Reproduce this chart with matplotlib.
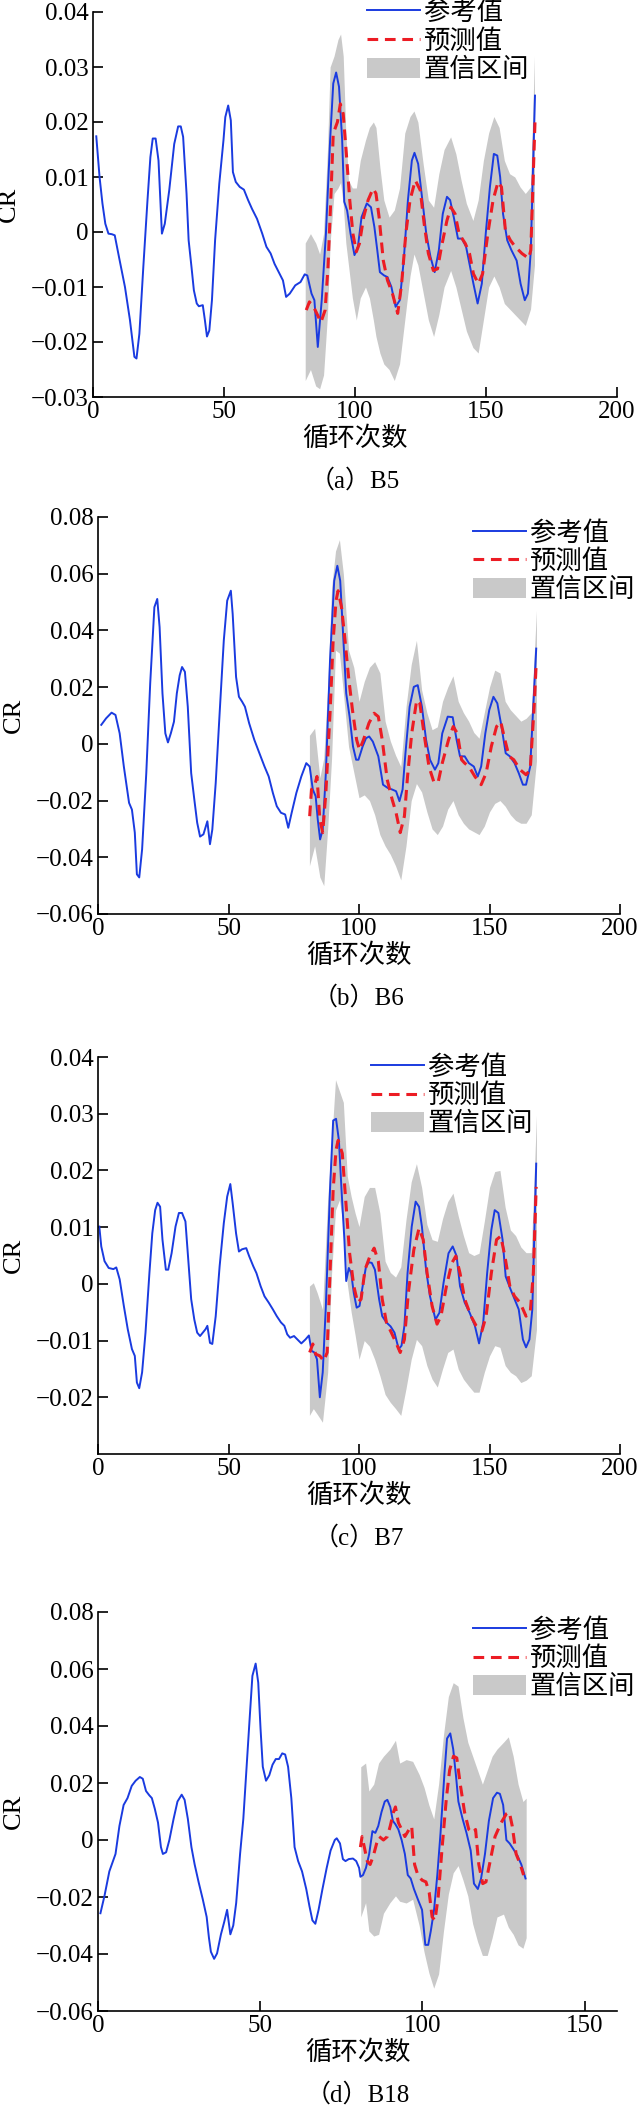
import matplotlib
matplotlib.use('Agg')
import matplotlib.pyplot as plt
from matplotlib.ticker import FuncFormatter
from matplotlib.patches import Patch
from matplotlib.lines import Line2D

plt.rcParams['font.family'] = ['Liberation Serif', 'Noto Sans CJK SC']

# ---------------- (a) B5 ----------------
a_ref_x = [1.25, 2.5, 3.6, 4.7, 5.9, 7.2, 8.3, 9.9, 12.2, 14.1, 15.8, 16.6, 17.7, 19.2, 20.8, 21.9, 22.8, 23.9,
           25, 26.3, 27.4, 29.1, 31, 32.5, 33.5, 34.4, 35.7, 36.5, 37.6, 38.5, 39.6, 40.4, 41.9, 42.7, 43.5, 44.4,
           45.4, 46.6, 48.2, 49.8, 50.5, 51.6, 52.6, 53.4, 54.5, 56, 57.6, 59.2, 60.7, 62.6, 64.6, 66.2, 67.8,
           69.3, 70.9, 72.5, 73.7, 75.1, 77.2, 79.2, 80.8, 81.8, 83.4, 84.5, 85.8, 87.3, 88.9, 90.5, 91.7, 92.8,
           93.9, 95.1, 95.9, 97, 98.3, 99.8, 101.1, 102.5, 104.5, 106.1, 107.4, 108.5, 109.5, 111.1, 112.4, 113.9,
           115.5, 117.1, 118.6, 120.2, 121.7, 122.7, 124.1, 125.7, 127.2, 128.8, 130.4, 132, 133.5, 135.1, 136.3,
           137.7, 139.3, 140.8, 142.4, 143.7, 145.2, 146.8, 148.4, 149.9, 151.5, 153, 154.3, 155.4, 156.5, 158.1,
           159.7, 161.7, 163.2, 164.8, 166, 167.1, 168.7]
a_ref_y = [0.0174, 0.010, 0.0052, 0.0015, -0.0003, -0.0004, -0.0006, -0.0045, -0.010, -0.016, -0.0227, -0.023,
           -0.0185, -0.0064, 0.0058, 0.0136, 0.017, 0.017, 0.013, -0.0003, 0.0015, 0.0076, 0.016, 0.0192, 0.0192,
           0.0173, 0.007, -0.0015, -0.0064, -0.0106, -0.013, -0.0135, -0.0133, -0.016, -0.019, -0.0179, -0.0124,
           -0.0015, 0.0088, 0.0167, 0.0209, 0.023, 0.0203, 0.0109, 0.0091, 0.0082, 0.0077, 0.0058, 0.0042, 0.0024,
           -0.0003, -0.0027, -0.0039, -0.0058, -0.0073, -0.0088, -0.0118, -0.0112, -0.0097, -0.0091, -0.0077,
           -0.0079, -0.0112, -0.0124, -0.0209, -0.0124, -0.0003, 0.0167, 0.027, 0.029, 0.0264, 0.0167, 0.0055,
           0.0039, -0.0003, -0.0042, -0.0027, 0.0027, 0.0052, 0.0045, 0.0009, -0.0033, -0.0073, -0.0079, -0.0082,
           -0.010, -0.0136, -0.0124, -0.0052, 0.0058, 0.013, 0.0144, 0.0124, 0.0058, -0.0003, -0.0045, -0.0073,
           -0.0033, 0.0033, 0.0064, 0.0058, 0.0027, -0.0012, -0.0012, -0.0027, -0.0058, -0.0094, -0.013, -0.0094,
           -0.0003, 0.0082, 0.0142, 0.0139, 0.010, 0.0033, -0.0015, -0.0033, -0.0052, -0.0094, -0.0124, -0.0112,
           -0.0033, 0.0248]
a_pred_x = [81.4, 82.6, 84.2, 85.4, 87, 88.6, 89.7, 90.8, 91.7, 93.3, 94.4, 95.5, 96.7, 98, 99.2, 100.5, 101.7,
            103.3, 105, 106.9, 108, 109.2, 110.8, 112.4, 114.3, 116.3, 117.8, 119.4, 121, 123, 124.9, 126.4, 128,
            129.9, 131.5, 133, 135.1, 136.6, 138.2, 139.7, 142.1, 143.7, 145.2, 147.1, 148.7, 150.7, 152.7, 154.6,
            155.9, 157.4, 159.3, 161.2, 163.7, 166.3, 167.1, 168.7]
a_pred_y = [-0.0142, -0.0127, -0.0136, -0.0148, -0.0164, -0.0142, -0.0064, 0.0064, 0.0179, 0.020, 0.0233, 0.0215,
            0.0142, 0.0058, -0.0003, -0.0036, -0.0021, 0.0027, 0.0058, 0.0079, 0.007, 0.0027, -0.0052, -0.0088,
            -0.0112, -0.0148, -0.0094, -0.0003, 0.0058, 0.0094, 0.0076, 0.0015, -0.0039, -0.007, -0.0067, -0.0027,
            0.0021, 0.0045, 0.0033, -0.0003, -0.0021, -0.0039, -0.0076, -0.0094, -0.0076, -0.0003, 0.0058, 0.0091,
            0.0082, 0.0003, -0.0015, -0.0027, -0.0039, -0.0048, -0.0033, 0.020]
a_band_x = [81, 83, 85, 86.5, 88, 89.5, 90.5, 92, 93.5, 94.5, 95.5, 96.5, 97.5, 99, 100.5, 102, 104, 105.5, 107,
            108, 109.5, 111, 113, 115, 117, 119, 121, 122.5, 124, 126, 128, 130, 132, 134, 136.5, 138.5, 140.5,
            142.5, 145, 147, 149, 151, 153, 155, 157, 159, 161, 163, 165, 167, 168.5]
a_band_hi = [-0.002, -0.0003, -0.002, -0.004, -0.0003, 0.015, 0.030, 0.032, 0.035, 0.036, 0.032, 0.018, 0.0094,
             0.008, 0.008, 0.013, 0.0167, 0.019, 0.020, 0.019, 0.0118, 0.0058, 0.0027, 0.004, 0.008, 0.018, 0.021,
             0.022, 0.020, 0.0124, 0.0058, 0.0045, 0.0106, 0.015, 0.0173, 0.0142, 0.0094, 0.0052, 0.0021, 0.0058,
             0.013, 0.018, 0.021, 0.019, 0.013, 0.0106, 0.010, 0.0082, 0.007, 0.0082, 0.032]
a_band_lo = [-0.027, -0.025, -0.028, -0.0285, -0.026, -0.015, -0.002, 0.007, 0.008, 0.009, 0.005, -0.002, -0.006,
             -0.012, -0.016, -0.012, -0.010, -0.012, -0.016, -0.019, -0.022, -0.024, -0.025, -0.027, -0.024, -0.016,
             -0.008, -0.004, -0.006, -0.011, -0.016, -0.019, -0.015, -0.010, -0.007, -0.010, -0.014, -0.018, -0.021,
             -0.022, -0.016, -0.010, -0.008, -0.010, -0.013, -0.014, -0.015, -0.016, -0.017, -0.014, -0.006]

# ---------------- (b) B6 ----------------
b_ref_x = [1.25, 3.1, 5.2, 6.7, 8.3, 9.9, 11.9, 13, 14.1, 14.9, 15.8, 16.9, 18.5, 20, 21.6, 22.7, 23.6, 24.7, 25.8,
           26.8, 27.9, 29.1, 30.2, 31.3, 32.2, 33.3, 34.4, 35.7, 36.9, 38, 39.1, 40.4, 41.9, 42.9, 43.8, 45.1, 46.6,
           48.2, 49.5, 50.9, 51.6, 52.9, 54, 55.2, 56.3, 57.9, 59.9, 62.3, 63.8, 65.4, 67, 68.5, 70.1, 71.7, 72.9,
           74.2, 76, 77.9, 79.8, 81.1, 82.3, 83.4, 84.2, 85.1, 86.1, 87.3, 88.9, 90.5, 91.7, 92.8, 93.9, 95.1, 96.4,
           97.7, 98.9, 99.8, 101.4, 102.7, 103.9, 105.3, 107.4, 109.2, 111.1, 112.7, 114.2, 115.5, 116.7, 117.8,
           119.4, 121, 122.5, 124.1, 125.7, 127.2, 129.1, 130.4, 131.9, 134, 135.9, 137.4, 138.7, 140.5, 142.1, 144,
           145.5, 146.8, 148.4, 149.9, 151.5, 153, 154.6, 156.2, 157.8, 159.6, 161.2, 162.8, 164, 165.6, 167.9]
b_ref_y = [0.0067, 0.009, 0.011, 0.0102, 0.0037, -0.008, -0.0208, -0.0232, -0.0313, -0.046, -0.0471, -0.0372,
           -0.0103, 0.0213, 0.0482, 0.0511, 0.0412, 0.0178, 0.0037, 0.0005, 0.0037, 0.0078, 0.0178, 0.0242, 0.0271,
           0.0254, 0.0131, -0.0103, -0.0196, -0.0278, -0.0327, -0.0319, -0.0273, -0.0354, -0.0302, -0.0138, 0.0108,
           0.0365, 0.0505, 0.054, 0.0458, 0.0236, 0.0166, 0.0149, 0.0131, 0.0073, 0.0014, -0.0044, -0.008, -0.0115,
           -0.0173, -0.022, -0.0243, -0.0249, -0.0296, -0.0243, -0.0173, -0.0115, -0.0068, -0.008, -0.0161,
           -0.0185, -0.0267, -0.0337, -0.0302, -0.0103, 0.0295, 0.0575, 0.0628, 0.0575, 0.0388, 0.0178, 0.0096,
           -0.0009, -0.0056, -0.0056, -0.0009, 0.002, 0.0026, 0.0008, -0.0044, -0.0144, -0.0156, -0.0161, -0.0167,
           -0.0202, -0.0161, -0.0033, 0.0131, 0.0201, 0.0207, 0.0131, 0.0014, -0.0056, -0.0091, -0.0068, 0.0037,
           0.0096, 0.0094, 0.0014, -0.0044, -0.0044, -0.0068, -0.008, -0.0115, -0.008, 0.0037, 0.0119, 0.0166,
           0.0143, 0.0061, -0.0033, -0.0044, -0.0068, -0.0103, -0.0144, -0.0144, -0.008, 0.0336]
b_pred_x = [81.1, 81.8, 82.9, 83.9, 85, 86.1, 87.3, 88.9, 90.1, 91.2, 92, 93.3, 94.4, 96, 97.5, 99.1, 100.2, 101.7,
            103.8, 105.8, 107.4, 108.9, 110.8, 112.7, 114.2, 115.8, 117.4, 118.6, 120.2, 122.1, 123.3, 124.9, 126.8,
            128.8, 130.4, 131.9, 134.3, 136.1, 137.7, 139.3, 140.5, 142.1, 144.4, 146.8, 148.7, 150.7, 152.7, 154.3,
            155.9, 157.5, 159.3, 161.7, 164, 165.6, 167.1, 167.9]
b_pred_y = [-0.0255, -0.0161, -0.015, -0.0115, -0.0267, -0.0313, -0.0173, 0.0108, 0.0365, 0.0505, 0.054, 0.0482,
            0.0388, 0.0236, 0.0119, 0.0014, -0.0021, 0.0014, 0.0073, 0.0108, 0.0096, 0.0014, -0.0126, -0.0196,
            -0.0243, -0.0313, -0.0255, -0.0115, 0.0037, 0.0154, 0.0143, 0.0037, -0.008, -0.0138, -0.0132, -0.0068,
            0.0014, 0.0061, 0.0037, -0.0056, -0.0068, -0.008, -0.0115, -0.0144, -0.0103, -0.0009, 0.0061, 0.0078,
            0.0014, -0.0044, -0.0056, -0.0091, -0.0109, -0.0091, 0.0131, 0.0283]
b_band_x = [81, 83, 85, 86.5, 88, 89.5, 91, 92.5, 94, 96, 98, 100, 102, 104, 106, 108, 110, 112, 114, 116, 118,
            120, 122, 124, 126, 128, 130, 132, 134, 136, 138, 140, 142, 144, 146, 148, 150, 152, 154, 156, 158, 160,
            162, 164, 166, 168]
b_band_hi = [0.003, 0.0055, -0.012, -0.005, 0.02, 0.055, 0.068, 0.072, 0.06, 0.033, 0.027, 0.015, 0.022, 0.027,
             0.029, 0.025, 0.008, 0.001, -0.004, -0.008, 0.013, 0.028, 0.0365, 0.019, 0.011, 0.005, 0.006, 0.015,
             0.020, 0.024, 0.015, 0.011, 0.008, 0.004, 0.002, 0.011, 0.020, 0.026, 0.025, 0.015, 0.012, 0.010, 0.008,
             0.009, 0.011, 0.047]
b_band_lo = [-0.043, -0.036, -0.047, -0.050, -0.030, -0.005, 0.033, 0.032, 0.018, -0.001, -0.010, -0.019, -0.018,
             -0.020, -0.025, -0.032, -0.036, -0.039, -0.043, -0.048, -0.036, -0.020, -0.014, -0.017, -0.024, -0.030,
             -0.032, -0.029, -0.023, -0.020, -0.025, -0.028, -0.030, -0.031, -0.032, -0.029, -0.024, -0.021, -0.020,
             -0.022, -0.025, -0.027, -0.028, -0.028, -0.025, -0.006]

# ---------------- (c) B7 ----------------
c_ref_x = [0.5, 1.25, 2.5, 4.1, 5.9, 7, 8.3, 9.9, 11.4, 13, 14.1, 14.9, 15.8, 16.9, 18.2, 19.7, 20.8, 21.9, 22.8,
           23.8, 24.7, 26, 26.9, 28.2, 29.7, 31, 32.2, 33.5, 34.4, 35.7, 36.9, 38, 39.1, 41.2, 41.9, 42.9, 43.8,
           45.1, 46.6, 48.2, 49.5, 50.7, 51.6, 52.9, 54, 55.2, 56.8, 57.9, 59.5, 60.7, 62.3, 63.8, 65.4, 67, 68.5,
           70.1, 71.4, 72.5, 73.6, 75.1, 76.4, 77.9, 79.5, 80.8, 81.8, 82.9, 83.9, 85, 86.1, 87.3, 88.9, 90.1, 91.2,
           92.3, 93.3, 94.4, 95.1, 96.1, 97, 98, 99.1, 100.2, 101.4, 102.7, 103.8, 104.9, 106.1, 107.7, 108.9,
           110.5, 112.1, 113.6, 115.2, 116.3, 117.4, 118.6, 120.2, 121.7, 123, 124.1, 125.7, 127.2, 129.3, 130.8,
           132.4, 134.3, 135.9, 137.4, 138.7, 140.5, 142.4, 144.4, 146, 147.6, 149.1, 150.7, 152, 153.4, 155, 156.2,
           158.1, 159.6, 161.2, 162.8, 164, 165.3, 166.4, 167.9]
c_ref_y = [0.0101, 0.0066, 0.004, 0.0028, 0.0026, 0.0029, 0.0008, -0.0039, -0.008, -0.0115, -0.0127, -0.0174,
           -0.0184, -0.0156, -0.0086, 0.0019, 0.0089, 0.013, 0.0143, 0.0136, 0.0078, 0.0025, 0.0025, 0.0054, 0.0101,
           0.0125, 0.0125, 0.011, 0.0054, -0.0027, -0.0063, -0.0086, -0.0092, -0.008, -0.0074, -0.0104, -0.0106,
           -0.0057, 0.0031, 0.0107, 0.0154, 0.0176, 0.0142, 0.0089, 0.0057, 0.0061, 0.0063, 0.0049, 0.0031, 0.0019,
           -0.0004, -0.0022, -0.0033, -0.0045, -0.0057, -0.0068, -0.0074, -0.0089, -0.0095, -0.0092, -0.0098,
           -0.0105, -0.0098, -0.0091, -0.0118, -0.0121, -0.0133, -0.020, -0.0156, -0.0039, 0.0166, 0.0288, 0.0291,
           0.0253, 0.0166, 0.0078, 0.0005, 0.0028, 0.0019, -0.0016, -0.0042, -0.0039, -0.0004, 0.0031, 0.0038,
           0.0037, 0.0025, -0.0027, -0.0057, -0.0068, -0.0075, -0.0086, -0.0115, -0.0109, -0.0074, 0.0019, 0.0101,
           0.0145, 0.0136, 0.0101, 0.0025, -0.0022, -0.0063, -0.0051, 0.0002, 0.0054, 0.0066, 0.0049, -0.0004,
           -0.0033, -0.0051, -0.0074, -0.0105, -0.0068, 0.0019, 0.0095, 0.013, 0.0125, 0.0078, 0.0013, -0.001,
           -0.0027, -0.0045, -0.0098, -0.0112, -0.0098, -0.0045, 0.0212]
c_pred_x = [81.1, 82.3, 83.4, 85, 86.5, 87.8, 88.9, 90.1, 91.2, 92, 93.6, 94.9, 96.4, 98, 99.5, 100.8, 102.3, 104.2,
            105.8, 107.4, 108.9, 110.5, 112.4, 114.2, 115.8, 117.4, 118.9, 121, 123, 124.6, 126.1, 128, 129.9, 131.4,
            133.5, 135.6, 137.1, 138.7, 140.5, 142.9, 144.9, 147.1, 148.7, 150.7, 152.7, 154.3, 155.9, 157.8, 159.6,
            161.7, 164, 165.6, 166.8, 167.9]
c_pred_y = [-0.0121, -0.0106, -0.0124, -0.0127, -0.0136, -0.0121, 0.0019, 0.0166, 0.0236, 0.0253, 0.023, 0.0148,
            0.0054, -0.0004, -0.0033, -0.0027, 0.0025, 0.0049, 0.0063, 0.004, -0.0027, -0.0068, -0.0086, -0.0104,
            -0.0121, -0.0098, -0.0016, 0.006, 0.0098, 0.0078, 0.0019, -0.0039, -0.0071, -0.0057, -0.0004, 0.0037,
            0.0049, 0.0019, -0.0027, -0.0057, -0.0074, -0.0083, -0.0057, 0.0019, 0.0078, 0.0084, 0.0049, -0.0004,
            -0.0022, -0.0033, -0.0057, -0.0051, 0.0019, 0.0171]
c_band_x = [81, 82.5, 84, 86, 88, 89.5, 91, 92.5, 94, 95.5, 97, 98.5, 100, 102, 104, 106, 108, 110, 112, 114, 116,
            118, 120, 122, 124, 126, 128, 130, 132, 134, 136, 138, 140, 142, 144, 146, 148, 150, 152, 154, 156, 158,
            160, 162, 164, 166, 168]
c_band_hi = [-0.0004, 0.0002, -0.0016, -0.0045, 0.0148, 0.025, 0.036, 0.034, 0.032, 0.019, 0.0154, 0.0125, 0.0101,
             0.0154, 0.017, 0.017, 0.0125, 0.004, 0.002, 0.0012, 0.003, 0.0113, 0.018, 0.0212, 0.017, 0.0105, 0.0078,
             0.0075, 0.0115, 0.0145, 0.016, 0.012, 0.0085, 0.0055, 0.005, 0.0054, 0.011, 0.017, 0.0198, 0.020,
             0.0135, 0.0095, 0.0085, 0.0065, 0.0055, 0.0055, 0.0297]
c_band_lo = [-0.0232, -0.022, -0.023, -0.0244, -0.0156, 0.0019, 0.013, 0.0148, 0.0101, 0.0, -0.005, -0.009, -0.0133,
             -0.010, -0.011, -0.0133, -0.0162, -0.0195, -0.0209, -0.022, -0.0232, -0.0185, -0.0133, -0.0098, -0.0109,
             -0.0144, -0.0168, -0.0182, -0.015, -0.0121, -0.0115, -0.015, -0.0168, -0.018, -0.0191, -0.0191, -0.0156,
             -0.0127, -0.0109, -0.0112, -0.0144, -0.0156, -0.0162, -0.0174, -0.017, -0.0162, -0.008]

# ---------------- (d) B18 ----------------
d_ref_x = [0.75, 2, 3.5, 5.4, 6.6, 7.9, 9.1, 10.4, 11.6, 12.9, 13.8, 14.8, 15.8, 16.6, 17.5, 18.5, 19.4, 20, 21, 22,
           23.3, 24.5, 25.8, 26.7, 27.7, 28.8, 29.8, 31, 32.3, 33.5, 34.2, 34.8, 35.8, 36.7, 37.9, 38.9, 39.8, 40.8,
           41.7, 42.6, 43.8, 44.8, 45.8, 46.7, 47.6, 48.6, 49.4, 50.1, 50.8, 51.8, 52.8, 53.8, 54.8, 55.8, 56.8,
           57.7, 58.6, 59.6, 60.6, 61.7, 62.9, 64.2, 65.2, 66.1, 67, 68, 69.2, 70.5, 71.7, 73, 73.6, 74.6, 75.5,
           76.3, 77.3, 78.6, 79.6, 80.5, 80.9, 81.7, 82.6, 83.6, 84.6, 85.5, 86.4, 87.4, 88.4, 89.2, 90.1, 90.9,
           91.7, 92.6, 93.6, 94.6, 95.5, 96.4, 97.4, 98.6, 99.9, 100.9, 101.8, 102.6, 103.6, 104.6, 105.6, 106.8,
           107.6, 108.6, 109.5, 110.4, 111.1, 112.4, 113.6, 114.9, 115.9, 117.1, 118.1, 119.3, 120.5, 121.8, 123,
           123.9, 124.9, 125.9, 126.9, 128, 129.3, 130.5, 131.8]
d_ref_y = [-0.0257, -0.0196, -0.011, -0.0049, 0.0049, 0.0123, 0.0147, 0.019, 0.0208, 0.0221, 0.0215, 0.0172, 0.0157,
           0.0147, 0.011, 0.0061, -0.0025, -0.0049, -0.0043, 0.0, 0.0074, 0.0135, 0.0159, 0.0141, 0.0074, -0.0025,
           -0.0086, -0.0147, -0.0208, -0.027, -0.0343, -0.0392, -0.0417, -0.0398, -0.0331, -0.0288, -0.0245, -0.0331,
           -0.030, -0.0221, -0.0049, 0.0074, 0.0257, 0.0417, 0.0576, 0.0619, 0.0552, 0.0392, 0.0257, 0.0208, 0.0227,
           0.0264, 0.0284, 0.0284, 0.0304, 0.030, 0.0257, 0.0147, -0.0025, -0.0074, -0.011, -0.0172, -0.0233,
           -0.0282, -0.0294, -0.0245, -0.0172, -0.0098, -0.0037, 0.0, 0.0006, -0.0012, -0.0067, -0.0074, -0.0067,
           -0.0065, -0.0074, -0.0098, -0.0129, -0.0123, -0.0098, -0.0049, 0.0031, 0.0025, 0.0049, 0.0098, 0.0135,
           0.0141, 0.0116, 0.0067, 0.0055, 0.0037, 0.0, -0.0049, -0.0123, -0.0135, -0.0172, -0.0208, -0.0245,
           -0.0368, -0.0368, -0.0319, -0.0245, -0.0123, 0.0025, 0.0233, 0.0356, 0.0374, 0.0319, 0.0221, 0.0135,
           0.0074, 0.0025, -0.0037, -0.0153, -0.0172, -0.0135, -0.0049, 0.0067, 0.0147, 0.0166, 0.0162, 0.0123, 0.0,
           -0.0012, -0.0031, -0.0055, -0.0086, -0.0135]
d_pred_x = [80.9, 81.4, 82.1, 83, 83.9, 84.9, 85.9, 86.7, 88, 89.2, 90.1, 91.1, 91.7, 92.6, 93.6, 94.6, 95.9, 96.7,
            97.6, 98.6, 99.9, 101.1, 102.1, 103, 103.9, 104.9, 106.1, 107.4, 108.4, 109.6, 110.6, 111.7, 113, 114.3,
            115.5, 116.4, 117.4, 118.6, 119.6, 120.9, 122.4, 124.3, 125.9, 126.8, 127.7, 128.9, 130.2, 131.2]
d_pred_y = [-0.0025, 0.0012, -0.0025, -0.0074, -0.0086, -0.0055, -0.0012, 0.0012, 0.0, 0.0012, 0.0049, 0.0098,
            0.0116, 0.0061, 0.0037, 0.0012, 0.0037, 0.0049, -0.0086, -0.0123, -0.0141, -0.0147, -0.0184, -0.027,
            -0.0282, -0.0196, -0.0025, 0.0147, 0.0245, 0.0294, 0.0288, 0.0194, 0.0098, 0.0037, 0.0025, 0.0037,
            -0.0086, -0.0153, -0.0147, -0.0074, 0.0012, 0.0061, 0.0092, 0.0098, 0.0049, -0.0049, -0.0086, -0.0123]
d_band_x = [81, 82.5, 83.5, 85, 86.5, 88, 90, 91.7, 93, 95, 97, 99, 100.5, 102, 103.5, 105, 106.5, 108, 109.5, 111,
            112.5, 114, 115.5, 117, 118.5, 120, 121.5, 123, 125, 126.5, 128, 129.5, 131, 132]
d_band_hi = [0.0257, 0.027, 0.0172, 0.0196, 0.027, 0.0294, 0.0319, 0.035, 0.027, 0.0282, 0.0276, 0.023, 0.0185,
             0.0123, 0.0074, 0.0196, 0.0368, 0.0503, 0.0552, 0.054, 0.0429, 0.0343, 0.0294, 0.0245, 0.0196, 0.0245,
             0.0294, 0.0319, 0.0343, 0.0362, 0.0294, 0.0196, 0.0135, 0.0147]
d_band_lo = [-0.027, -0.022, -0.0319, -0.0337, -0.0331, -0.0257, -0.022, -0.0196, -0.0215, -0.0221, -0.0208, -0.030,
             -0.0392, -0.0466, -0.052, -0.047, -0.032, -0.019, -0.0115, -0.009, -0.014, -0.0196, -0.0294, -0.0356,
             -0.0405, -0.0405, -0.0343, -0.027, -0.026, -0.0306, -0.0331, -0.0368, -0.038, -0.0343]

panels = [
    dict(ref=(a_ref_x, a_ref_y), pred=(a_pred_x, a_pred_y), band=(a_band_x, a_band_lo, a_band_hi),
         box=(93, 12, 617, 397), xlim=(0, 200), xticks=[0, 50, 100, 150, 200],
         ylim=(-0.03, 0.04), yticks=[-0.03, -0.02, -0.01, 0, 0.01, 0.02, 0.03, 0.04],
         leg=(0.523, 1.03), cap='（a）B5'),
    dict(ref=(b_ref_x, b_ref_y), pred=(b_pred_x, b_pred_y), band=(b_band_x, b_band_lo, b_band_hi),
         box=(98, 517, 620, 914), xlim=(0, 200), xticks=[0, 50, 100, 150, 200],
         ylim=(-0.06, 0.08), yticks=[-0.06, -0.04, -0.02, 0, 0.02, 0.04, 0.06, 0.08],
         leg=(0.718, 0.99), cap='（b）B6'),
    dict(ref=(c_ref_x, c_ref_y), pred=(c_pred_x, c_pred_y), band=(c_band_x, c_band_lo, c_band_hi),
         box=(98, 1057, 620, 1454), xlim=(0, 200), xticks=[0, 50, 100, 150, 200],
         ylim=(-0.03, 0.04), yticks=[-0.02, -0.01, 0, 0.01, 0.02, 0.03, 0.04],
         leg=(0.523, 1.005), cap='（c）B7'),
    dict(ref=(d_ref_x, d_ref_y), pred=(d_pred_x, d_pred_y), band=(d_band_x, d_band_lo, d_band_hi),
         box=(98, 1612, 617, 2011), xlim=(0, 160), xticks=[0, 50, 100, 150],
         ylim=(-0.06, 0.08), yticks=[-0.06, -0.04, -0.02, 0, 0.02, 0.04, 0.06, 0.08],
         leg=(0.723, 0.985), cap='（d）B18'),
]

W, H = 637, 2107
fig = plt.figure(figsize=(W / 100, H / 100), dpi=100)

blue = '#1a3be0'
red = '#ec1c24'
gray = '#c9c9c9'


def fmt(v, pos):
    if abs(v) < 1e-9:
        return '0'
    return f'{v:.2f}'.replace('-', '\u2212')


for p in panels:
    l, t, r, b = p['box']
    ax = fig.add_axes([l / W, 1 - b / H, (r - l) / W, (b - t) / H])
    bx, blo, bhi = p['band']
    ax.fill_between(bx, blo, bhi, color=gray, linewidth=0, zorder=1)
    ax.plot(*p['ref'], color=blue, lw=1.4, zorder=2)
    ax.plot(*p['pred'], color=red, lw=2.2, dashes=(3.5, 2.2), zorder=3)

    ax.set_xlim(*p['xlim'])
    ax.set_ylim(*p['ylim'])
    ax.set_xticks(p['xticks'])
    ax.set_yticks(p['yticks'])
    ax.yaxis.set_major_formatter(FuncFormatter(fmt))
    for s in ['top', 'right']:
        ax.spines[s].set_visible(False)
    for s in ['left', 'bottom']:
        ax.spines[s].set_linewidth(1.2)
    ax.tick_params(direction='in', length=7.5, width=1.2, labelsize=18)
    ax.tick_params(axis='x', pad=3)
    ax.tick_params(axis='y', pad=3)

    ax.set_ylabel('CR', fontsize=19)
    ax.yaxis.set_label_coords(-0.14, 0.5)
    ax.set_xlabel('循环次数', fontsize=19, labelpad=2)
    ax.annotate(p['cap'], xy=(0.5, 0), xycoords='axes fraction', xytext=(0, -84),
                textcoords='offset pixels', ha='center', va='center', fontsize=18)

    handles = [Line2D([], [], color=blue, lw=1.4),
               Line2D([], [], color=red, lw=2.2, dashes=(3.5, 2.2)),
               Patch(facecolor=gray, edgecolor='none')]
    ax.legend(handles, ['参考值', '预测值', '置信区间'], loc='upper left', bbox_to_anchor=p['leg'],
              frameon=False, fontsize=19, borderpad=0, borderaxespad=0, handlelength=2.0,
              handleheight=0.8, handletextpad=0.15, labelspacing=0.15)

fig.savefig('out.png', dpi=100)
